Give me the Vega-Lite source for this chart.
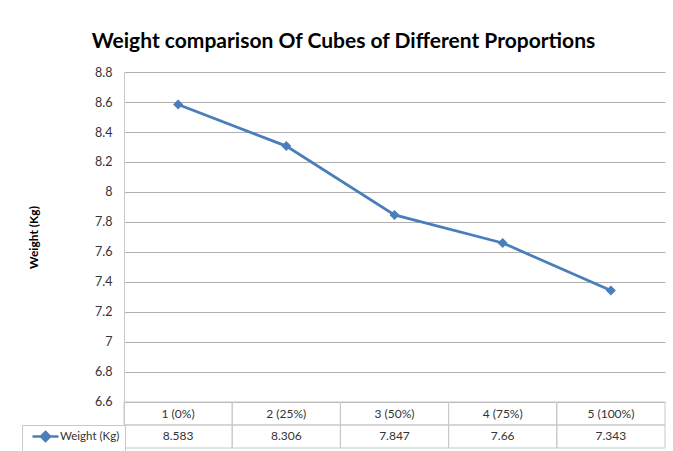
{
  "$schema": "https://vega.github.io/schema/vega-lite/v6.json",
  "autosize": "none",
  "width": 541,
  "height": 376,
  "padding": {"left": 124, "top": 72, "right": 8, "bottom": 3},
  "background": "white",
  "title": {
    "text": "Weight comparison Of Cubes of Different Proportions",
    "font": "Lato, sans-serif",
    "fontSize": 21,
    "fontWeight": "bold",
    "color": "#000000",
    "anchor": "middle",
    "frame": "group",
    "dx": -51,
    "baseline": "alphabetic",
    "offset": -3
  },
  "data": {
    "values": [
      {"Category": "1 (0%)", "Weight": 8.583},
      {"Category": "2 (25%)", "Weight": 8.306},
      {"Category": "3 (50%)", "Weight": 7.847},
      {"Category": "4 (75%)", "Weight": 7.66},
      {"Category": "5 (100%)", "Weight": 7.343}
    ]
  },
  "config": {
    "view": {"stroke": null},
    "font": "Lato, sans-serif",
    "legend": {
      "orient": "none",
      "legendX": -102,
      "legendY": 353,
      "title": null,
      "strokeColor": "#c8c8c8",
      "fillColor": "white",
      "cornerRadius": 0,
      "padding": 5,
      "symbolType": "M-2.6,0H2.6M0,-0.9L0.9,0L0,0.9L-0.9,0Z",
      "symbolSize": 100,
      "symbolStrokeWidth": 2.5,
      "symbolFillColor": "#4a7ebb",
      "symbolStrokeColor": "#4a7ebb",
      "symbolOffset": 12,
      "labelOffset": 8,
      "labelFont": "Lato, sans-serif",
      "labelFontSize": 11.5,
      "labelColor": "#333333"
    }
  },
  "encoding": {
    "x": {
      "field": "Category",
      "type": "nominal",
      "sort": null,
      "scale": {"type": "band", "paddingInner": 0, "paddingOuter": 0},
      "axis": null
    }
  },
  "layer": [
    {
      "mark": {"type": "rect", "fill": null, "stroke": "#c8c8c8", "strokeWidth": 1},
      "encoding": {
        "y": {"datum": 6.6, "type": "quantitative"},
        "y2": {"datum": 6.446667}
      }
    },
    {
      "mark": {"type": "rect", "fill": null, "stroke": "#c8c8c8", "strokeWidth": 1},
      "encoding": {
        "y": {"datum": 6.446667, "type": "quantitative"},
        "y2": {"datum": 6.293333}
      }
    },
    {
      "mark": {"type": "text", "fontSize": 12, "color": "#333333", "baseline": "middle"},
      "encoding": {
        "x": {"field": "Category", "type": "nominal", "sort": null, "bandPosition": 0.5},
        "y": {"datum": 6.523333, "type": "quantitative"},
        "text": {"field": "Category", "type": "nominal"}
      }
    },
    {
      "mark": {"type": "text", "fontSize": 12, "color": "#333333", "baseline": "middle"},
      "encoding": {
        "x": {"field": "Category", "type": "nominal", "sort": null, "bandPosition": 0.5},
        "y": {"datum": 6.37, "type": "quantitative"},
        "text": {"field": "Weight", "type": "nominal"}
      }
    },
    {
      "mark": {"type": "line", "strokeWidth": 2.75},
      "encoding": {
        "x": {"field": "Category", "type": "nominal", "sort": null, "bandPosition": 0.5},
        "y": {
          "field": "Weight",
          "type": "quantitative",
          "scale": {"domain": [6.293333, 8.8], "nice": false, "zero": false},
          "axis": {
            "values": [6.6, 6.8, 7, 7.2, 7.4, 7.6, 7.8, 8, 8.2, 8.4, 8.6, 8.8],
            "tickCount": 30,
            "format": "~g",
            "labelOverlap": false,
            "grid": true,
            "gridColor": "#b0b0b0",
            "gridWidth": 1,
            "ticks": false,
            "tickSize": 0,
            "domainColor": "#c8c8c8",
            "labelPadding": 12,
            "labelFontSize": 12.5,
            "labelColor": "#333333",
            "labelFont": "Lato, sans-serif",
            "title": "Weight (Kg)",
            "titleFont": "Lato, sans-serif",
            "titleFontSize": 12,
            "titleFontWeight": "bold",
            "titleColor": "#000000",
            "titleX": -91,
            "titleY": 165,
            "titleBaseline": "middle",
            "titleAngle": -90
          }
        },
        "color": {"datum": "Weight (Kg)", "type": "nominal", "scale": {"range": ["#4a7ebb"]}}
      }
    },
    {
      "mark": {"type": "point", "shape": "diamond", "filled": true, "size": 100, "opacity": 1},
      "encoding": {
        "x": {"field": "Category", "type": "nominal", "sort": null, "bandPosition": 0.5},
        "y": {"field": "Weight", "type": "quantitative"},
        "color": {"datum": "Weight (Kg)", "type": "nominal"}
      }
    }
  ]
}
